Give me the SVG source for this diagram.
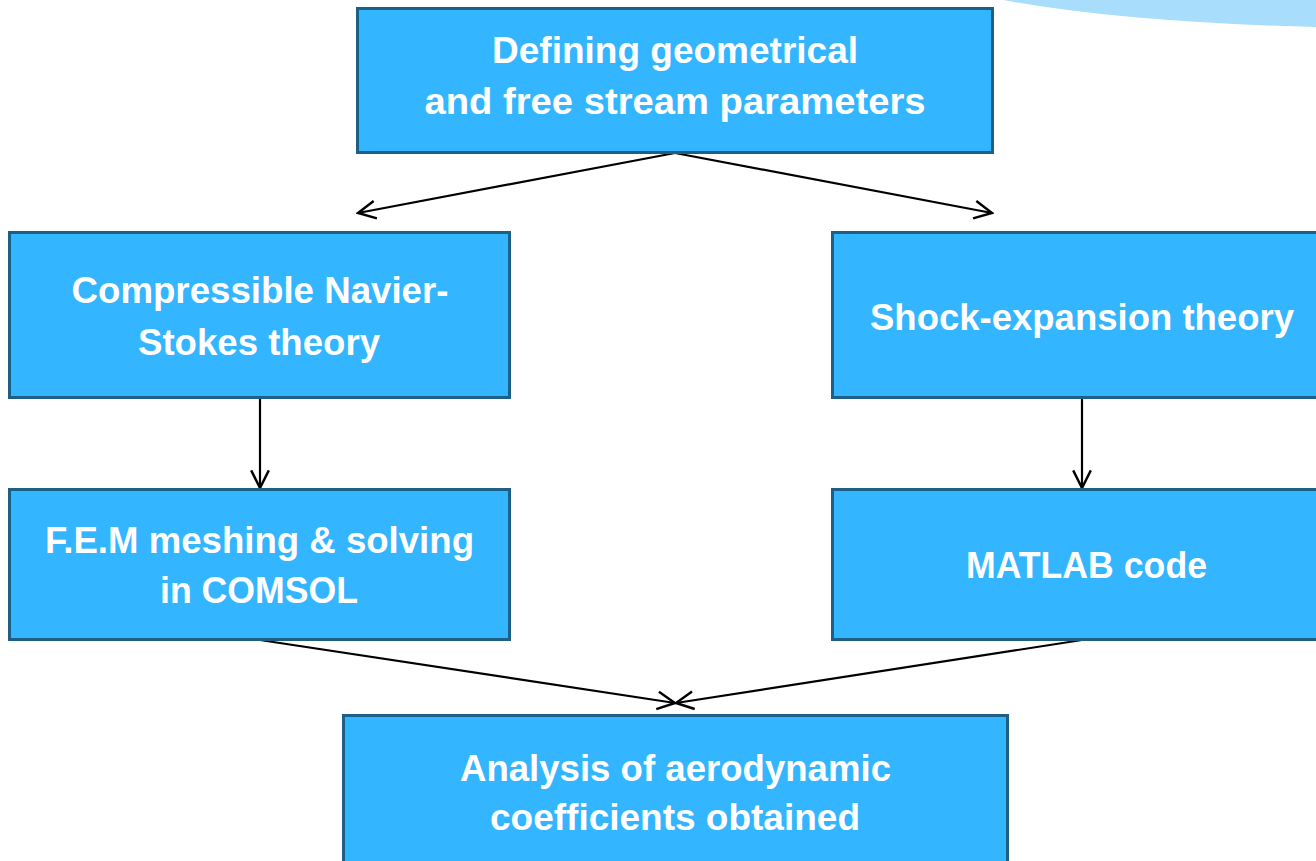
<svg xmlns="http://www.w3.org/2000/svg" width="1316" height="861" viewBox="0 0 1316 861">
<defs>
<style>
.box{fill:#33B5FF;stroke:#1D5F85;stroke-width:3}
.t{font-family:"Liberation Sans",Arial,sans-serif;font-weight:bold;font-size:36px;fill:#fff;text-anchor:middle}
.c{stroke:#000;stroke-width:2.2;fill:none}
</style>
<marker id="a" viewBox="0 0 20 20" refX="18" refY="10" markerWidth="22" markerHeight="22" markerUnits="userSpaceOnUse" orient="auto">
<path d="M2,2 L18,10 L2,18" fill="none" stroke="#000" stroke-width="2.2"/>
</marker>
</defs>
<rect width="1316" height="861" fill="#fff"/>
<path d="M1003,0 Q1120,22 1316,27 L1316,0 Z" fill="#A8DDFB"/>
<g id="connectors">
<line class="c" x1="675" y1="153" x2="358" y2="213" marker-end="url(#a)"/>
<line class="c" x1="675" y1="153" x2="992" y2="213" marker-end="url(#a)"/>
<line class="c" x1="260" y1="398" x2="260" y2="488" marker-end="url(#a)"/>
<line class="c" x1="1082" y1="398" x2="1082" y2="488" marker-end="url(#a)"/>
<line class="c" x1="260" y1="640" x2="675" y2="703" marker-end="url(#a)"/>
<line class="c" x1="1082" y1="640" x2="676" y2="703" marker-end="url(#a)"/>
</g>
<g id="n1">
<rect class="box" x="357.5" y="8.5" width="635" height="144"/>
<text class="t" x="675" y="63" textLength="366" lengthAdjust="spacingAndGlyphs">Defining geometrical</text>
<text class="t" x="675" y="114" textLength="501" lengthAdjust="spacingAndGlyphs">and free stream  parameters</text>
</g>
<g id="n2">
<rect class="box" x="9.5" y="232.5" width="500" height="165"/>
<text class="t" x="260" y="303" textLength="377" lengthAdjust="spacingAndGlyphs">Compressible Navier-</text>
<text class="t" x="259" y="355" textLength="242" lengthAdjust="spacingAndGlyphs">Stokes theory</text>
</g>
<g id="n3">
<rect class="box" x="832.5" y="232.5" width="490" height="165"/>
<text class="t" x="1082" y="330" textLength="424" lengthAdjust="spacingAndGlyphs">Shock-expansion theory</text>
</g>
<g id="n4">
<rect class="box" x="9.5" y="489.5" width="500" height="150"/>
<text class="t" x="259.5" y="553" textLength="429" lengthAdjust="spacingAndGlyphs">F.E.M meshing &amp; solving</text>
<text class="t" x="259" y="603" textLength="198" lengthAdjust="spacingAndGlyphs">in COMSOL</text>
</g>
<g id="n5">
<rect class="box" x="832.5" y="489.5" width="490" height="150"/>
<text class="t" x="1086.5" y="578" textLength="241" lengthAdjust="spacingAndGlyphs">MATLAB code</text>
</g>
<g id="n6">
<rect class="box" x="343.5" y="715.5" width="664" height="160"/>
<text class="t" x="675.5" y="781" textLength="431" lengthAdjust="spacingAndGlyphs">Analysis of aerodynamic</text>
<text class="t" x="675" y="830" textLength="370" lengthAdjust="spacingAndGlyphs">coefficients obtained</text>
</g>
</svg>
